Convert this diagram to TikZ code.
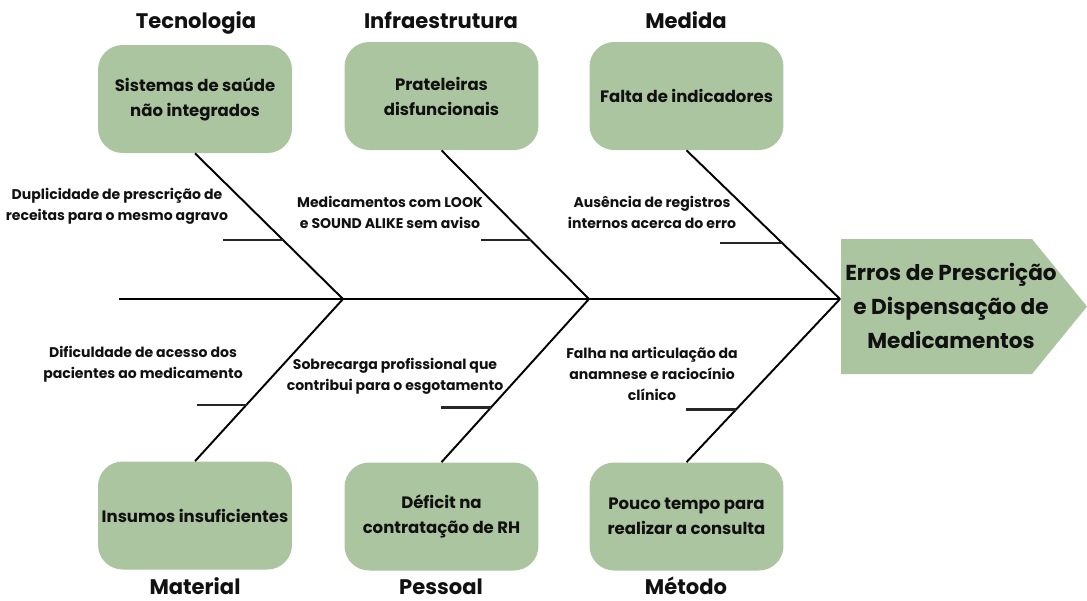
\documentclass[tikz,border=0pt]{standalone}
\usepackage{fontspec}
\setmainfont{Poppins}
\usetikzlibrary{calc}
\definecolor{boxgreen}{HTML}{ABC5A0}
\definecolor{ink}{HTML}{111111}
\begin{document}
\begin{tikzpicture}[x=0.02cm,y=-0.02cm,
  cause/.style={fill=boxgreen, rounded corners=14pt, minimum width=3.88cm, minimum height=2.16cm, align=center, font=\bfseries\fontsize{9.4}{14.2}\selectfont, text=ink, inner sep=0pt},
  cat/.style={font=\bfseries\fontsize{12}{14}\selectfont, text=ink, inner sep=0pt, anchor=base},
  sub/.style={font=\bfseries\fontsize{8}{11.9}\selectfont, align=center, text=ink, inner sep=0pt},
  headtext/.style={font=\bfseries\fontsize{12.3}{19.3}\selectfont, align=center, text=ink, inner sep=0pt},
  bone/.style={draw=black, line width=1.1pt},
  twig/.style={draw=black!85, line width=1.2pt}]
\useasboundingbox (0,0) rectangle (1087,600);
% causes
\node[cause] (c1) at (195,99) {Sistemas de saúde\\não integrados};
\node[cause] (c2) at (441.5,96) {Prateleiras\\disfuncionais};
\node[cause] (c3) at (686.5,96) {Falta de indicadores};
\node[cause] (c4) at (195,515.5) {Insumos insuficientes};
\node[cause] (c5) at (441.5,516.5) {Déficit na\\contratação de RH};
\node[cause] (c6) at (686.5,516.5) {Pouco tempo para\\realizar a consulta};
% categories
\node[cat] (k1) at (196,28) {Tecnologia};
\node[cat] (k2) at (441,28) {Infraestrutura};
\node[cat] (k3) at (686,28) {Medida};
\node[cat] (k4) at (195,594) {Material};
\node[cat] (k5) at (441,594) {Pessoal};
\node[cat] (k6) at (686,594) {Método};
% head
\fill[boxgreen] (841,239) -- (1032,239) -- (1087,306.5) -- (1032,374) -- (841,374) -- cycle;
\node[headtext] (head) at (951,306) {Erros de Prescrição\\e Dispensação de\\Medicamentos};
% spine and bones
\coordinate (s0) at (119,299);
\coordinate (j1) at (343,299);
\coordinate (j2) at (589,299);
\coordinate (j3) at (840,299);
\draw[bone] (s0) -- (j3);
\draw[bone] (c1.south) -- (j1);
\draw[bone] (c2.south) -- (j2);
\draw[bone] (c3.south) -- (j3);
\draw[bone] (c4.north) -- (j1);
\draw[bone] (c5.north) -- (j2);
\draw[bone] (c6.north) -- (j3);
% twigs
\coordinate (t1) at ($(c1.south)!0.596!(j1)$);
\coordinate (t2) at ($(c2.south)!0.604!(j2)$);
\coordinate (t3) at ($(c3.south)!0.624!(j3)$);
\coordinate (t4) at ($(j1)!0.652!(c4.north)$);
\coordinate (t5) at ($(j2)!0.665!(c5.north)$);
\coordinate (t6) at ($(j3)!0.677!(c6.north)$);
\draw[twig] (t1) -- ++(-60,0);
\draw[twig] (t2) -- ++(-50,0);
\draw[twig] (t3) -- ++(-62,0);
\draw[twig] (t4) -- ++(-50,0);
\draw[twig] (t5) -- ++(-50,0);
\draw[twig] (t6) -- ++(-50,0);
% labels
\node[sub] (l1) at (117,206) {Duplicidade de prescrição de\\receitas para o mesmo agravo};
\node[sub] (l2) at (390,212) {Medicamentos com LOOK\\e SOUND ALIKE sem aviso};
\node[sub] (l3) at (652,212) {Ausência de registros\\internos acerca do erro};
\node[sub] (l4) at (143,364) {Dificuldade de acesso dos\\pacientes ao medicamento};
\node[sub] (l5) at (395,376) {Sobrecarga profissional que\\contribui para o esgotamento};
\node[sub] (l6) at (652,374) {Falha na articulação da\\anamnese e raciocínio\\clínico};
\end{tikzpicture}
\end{document}
